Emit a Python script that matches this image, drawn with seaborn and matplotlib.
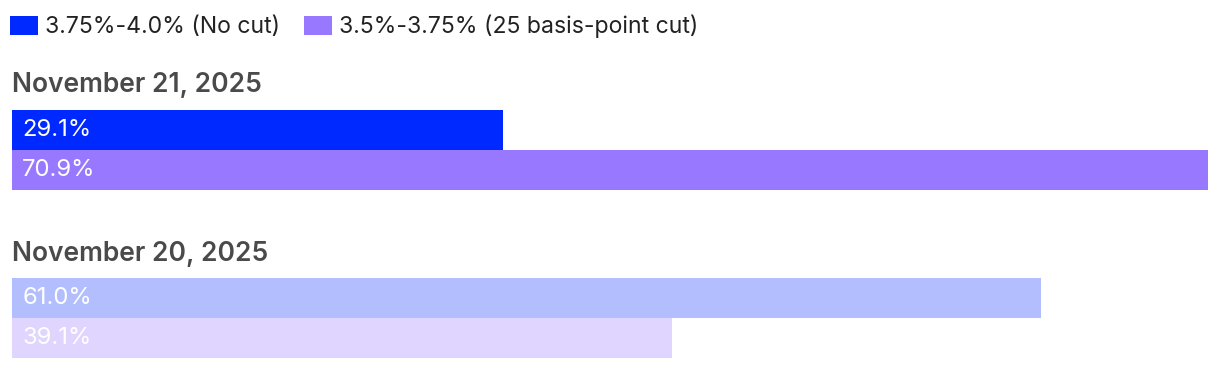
import matplotlib
matplotlib.use("Agg")
import matplotlib.pyplot as plt
from matplotlib.patches import Rectangle
import seaborn as sns
import pandas as pd

# ---- data ----
series = ["3.75%-4.0% (No cut)", "3.5%-3.75% (25 basis-point cut)"]
dates = ["November 21, 2025", "November 20, 2025"]
nov21_values = [29.1, 70.9]
nov20_values = [61.0, 39.1]
legend_colors = ["#0029FF", "#9878FF"]
nov21_colors = ["#0029FF", "#9878FF"]
nov20_colors = ["#B3BEFF", "#DFD5FF"]

sns.set_theme(style="white")
plt.rcParams["font.family"] = ["Inter", "DejaVu Sans"]

W, H = 1220, 370
fig = plt.figure(figsize=(W / 100, H / 100), dpi=100)
fig.patch.set_facecolor("white")

def fx(px):
    return px / W

def fy(py):
    return 1 - py / H

xmax = max(nov21_values + nov20_values)

groups = [
    (dates[0], nov21_values, nov21_colors, 110, 190, 92),
    (dates[1], nov20_values, nov20_colors, 278, 358, 261),
]

for date, vals, cols, top, bot, title_base in groups:
    ax = fig.add_axes([fx(12), fy(bot), fx(1196), (bot - top) / H])
    df = pd.DataFrame({"series": series, "value": vals})
    sns.barplot(data=df, x="value", y="series", hue="series", palette=cols,
                order=series, hue_order=series, width=1.0, saturation=1,
                legend=False, ax=ax, linewidth=0)
    ax.set_xlim(0, xmax)
    ax.set_ylim(1.5, -0.5)
    ax.axis("off")
    for i, v in enumerate(vals):
        ax.annotate(f"{v:.1f}%", xy=(0, i), xytext=(7.4, -4.6),
                    textcoords="offset points", color="white",
                    fontsize=17.2, va="baseline", ha="left")
    fig.text(fx(12), fy(title_base), date, fontsize=19.0, fontweight="semibold",
             color="#4a4a4a", va="baseline", ha="left")

# legend
leg_items = [(10, 45), (304, 339)]
for (rx, tx), name, c in zip(leg_items, series, legend_colors):
    fig.patches.append(Rectangle((fx(rx), fy(35)), fx(28), 19 / H,
                                 transform=fig.transFigure, facecolor=c,
                                 edgecolor="none"))
    fig.text(fx(tx), fy(33), name, fontsize=16.6, color="#222222",
             va="baseline", ha="left")

fig.savefig("out.png", dpi=100, facecolor="white")
